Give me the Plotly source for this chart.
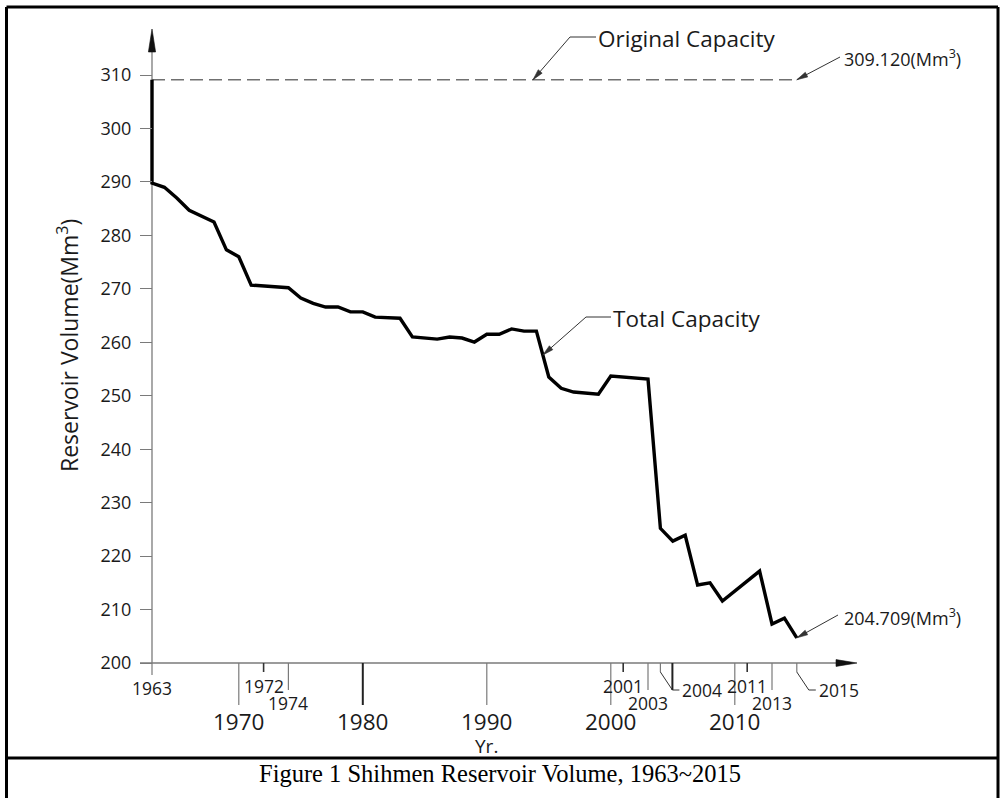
import math
import numpy as np
import plotly.graph_objects as go

# ---------------- data ----------------
years = [1963, 1963, 1964, 1965, 1966, 1968, 1969, 1970, 1971, 1974,
         1975, 1976, 1977, 1978, 1979, 1980, 1981, 1983, 1984, 1986,
         1987, 1988, 1989, 1990, 1991, 1992, 1993, 1994, 1995, 1996,
         1997, 1999, 2000, 2003, 2004, 2005, 2006, 2007, 2008, 2009,
         2012, 2013, 2014, 2015]
volume = [309.12, 289.8, 289.0, 287.0, 284.7, 282.5, 277.3, 276.0, 270.7, 270.2,
          268.3, 267.3, 266.6, 266.6, 265.7, 265.7, 264.7, 264.5, 261.0, 260.6,
          261.0, 260.8, 260.05, 261.5, 261.5, 262.5, 262.1, 262.1, 253.5, 251.4,
          250.7, 250.3, 253.7, 253.1, 225.2, 222.8, 223.9, 214.6, 215.0, 211.6,
          217.2, 207.3, 208.4, 204.709]
original_capacity = 309.12
latest_capacity = 204.709
first_year = 1963
last_year = 2015
ytick_values = list(range(200, 311, 10))
major_years = [1970, 1980, 1990, 2000, 2010]
upper_marked_years = [1972, 2001, 2011]
lower_marked_years = [1974, 2003, 2013]
leader_marked_years = [2004, 2015]

# ---------------- geometry (pixels) ----------------
W, H = 1001, 798
PL, PR, PT, PB = 130, 870, 20, 712
X0_PX, PX_PER_YR = 152, 12.4
Y0_PX, PX_PER_UNIT = 663, 5.345
Y_BASE = 200


def yr_at(px):
    return first_year + (px - X0_PX) / PX_PER_YR


def val_at(py):
    return Y_BASE + (Y0_PX - py) / PX_PER_UNIT


def xpx(yr):
    return X0_PX + (yr - first_year) * PX_PER_YR


def ypx(v):
    return Y0_PX - (v - Y_BASE) * PX_PER_UNIT


def paper_x(px):
    return (px - PL) / (PR - PL)


def paper_y(py):
    return (PB - py) / (PB - PT)


AX = '#7a7a7a'
INK = '#1a1a1a'
LEAD = '#333333'
FONT = 'Open Sans'

shapes = []


def line_px(x0, y0, x1, y1, color=LEAD, width=1.0):
    shapes.append(dict(type='line', xref='x', yref='y',
                       x0=yr_at(x0), y0=val_at(y0), x1=yr_at(x1), y1=val_at(y1),
                       line=dict(color=color, width=width), layer='above'))


def head(tip_x, tip_y, toward_dx, toward_dy, length, half, color=LEAD):
    """Filled arrowhead with tip at a data point; direction toward tail in screen px."""
    n = math.hypot(toward_dx, toward_dy)
    ux, uy = toward_dx / n, -toward_dy / n  # pixel-mode y is up
    px_, py_ = -uy, ux
    c1 = (length * ux + half * px_, length * uy + half * py_)
    c2 = (length * ux - half * px_, length * uy - half * py_)
    path = f"M0,0 L{c1[0]:.2f},{c1[1]:.2f} L{c2[0]:.2f},{c2[1]:.2f} Z"
    shapes.append(dict(type='path', xref='x', yref='y', xsizemode='pixel', ysizemode='pixel',
                       xanchor=tip_x, yanchor=tip_y, path=path, fillcolor=color,
                       line=dict(color=color, width=0.6), layer='above'))


# axes (drawn below the data line)
x_tip_px = 857
y_tip_py = 29
shapes.append(dict(type='line', xref='x', yref='y', x0=yr_at(140), x1=yr_at(x_tip_px - 10),
                   y0=Y_BASE, y1=Y_BASE, line=dict(color=AX, width=1.3), layer='below'))
shapes.append(dict(type='line', xref='x', yref='y', x0=first_year, x1=first_year,
                   y0=Y_BASE, y1=val_at(y_tip_py + 10), line=dict(color=AX, width=1.3),
                   layer='below'))
head(yr_at(x_tip_px), Y_BASE, -1, 0, 21, 3.4, color='#111')
head(first_year, val_at(y_tip_py), 0, 1, 23, 3.6, color='#111')

# original capacity dashed line
shapes.append(dict(type='line', xref='x', yref='y', x0=first_year, x1=last_year,
                   y0=original_capacity, y1=original_capacity, layer='below',
                   line=dict(color='#707070', width=1.5, dash='13px,6px')))


def tick(yr, length, width=1.2, color=AX):
    shapes.append(dict(type='line', xref='x', yref='y', ysizemode='pixel', yanchor=Y_BASE,
                       x0=yr, x1=yr, y0=0, y1=-length, layer='below',
                       line=dict(color=color, width=width)))


tick(first_year, 12)
for yr in major_years:
    tick(yr, 42, width=2 if yr == 1980 else 1.2, color='#222' if yr == 1980 else AX)
for yr in upper_marked_years:
    tick(yr, 9, width=1.6, color='#333')
for yr in lower_marked_years:
    tick(yr, 27)

annotations = []


def text(x, y, s, size, xanchor='center', family=FONT, color=INK, angle=0):
    annotations.append(dict(x=x, y=y, xref='x', yref='paper', text=s, showarrow=False,
                            xanchor=xanchor, yanchor='middle', textangle=angle,
                            borderpad=0,
                            font=dict(family=family, size=size, color=color)))


for yr in leader_marked_years:
    tick(yr, 9, width=1.2)
    x_end = xpx(yr) + 12
    shapes.append(dict(type='line', xref='x', yref='y', ysizemode='pixel', yanchor=Y_BASE,
                       x0=yr, x1=yr_at(x_end), y0=-9, y1=-27, line=dict(color=LEAD, width=1)))
    if yr == 2004:
        shapes.append(dict(type='line', xref='x', yref='y', ysizemode='pixel', yanchor=Y_BASE,
                           x0=yr_at(x_end), x1=yr_at(x_end), y0=0, y1=-27,
                           line=dict(color='#222', width=2)))
    shapes.append(dict(type='line', xref='x', yref='y', ysizemode='pixel', yanchor=Y_BASE,
                       x0=yr_at(x_end), x1=yr_at(x_end + 7), y0=-27, y1=-27,
                       line=dict(color=LEAD, width=1)))
    text(yr_at(x_end + 9), paper_y(690), str(yr), 17.5, xanchor='left')

text(first_year, paper_y(688), str(first_year), 17.5)
for yr in upper_marked_years:
    text(yr, paper_y(686), str(yr), 17.5)
for yr in lower_marked_years:
    text(yr, paper_y(703), str(yr), 17.5)
for yr in major_years:
    text(yr, paper_y(721), str(yr), 22.5)
text(1990, paper_y(746), 'Yr.', 19)

# leaders with labels
# Original Capacity
tip = (yr_at(533), original_capacity)
line_px(570, 37, xpx(tip[0]), ypx(tip[1]))
line_px(570, 37, 596, 37)
head(tip[0], tip[1], 570 - xpx(tip[0]), 37 - ypx(tip[1]), 11, 2.6)
text(yr_at(597), paper_y(38), 'Original Capacity', 22.5, xanchor='left')

# 309.120
tip = (last_year, original_capacity)
line_px(840, 57, xpx(tip[0]), ypx(tip[1]))
head(tip[0], tip[1], 840 - xpx(tip[0]), 57 - ypx(tip[1]), 11, 2.6)
text(yr_at(843), paper_y(58), f'{original_capacity:.3f}(Mm<sup>3</sup>)', 18, xanchor='left')

# Total Capacity (tip on the line between 1994 and 1995)
i94 = years.index(1994)
tip_val = val_at(355)
tip_yr = float(np.interp(tip_val, [volume[i94 + 1], volume[i94]], [years[i94 + 1], years[i94]]))
tip = (tip_yr, tip_val)
line_px(586, 317, xpx(tip[0]), ypx(tip[1]))
line_px(586, 317, 611, 317)
head(tip[0], tip[1], 586 - xpx(tip[0]), 317 - ypx(tip[1]), 11, 2.6)
text(yr_at(612), paper_y(318), 'Total Capacity', 22.5, xanchor='left')

# 204.709
tip = (last_year, latest_capacity)
line_px(838, 615, xpx(tip[0]), ypx(tip[1]))
head(tip[0], tip[1], 838 - xpx(tip[0]), 615 - ypx(tip[1]), 11, 2.6)
text(yr_at(843), paper_y(617), f'{latest_capacity:.3f}(Mm<sup>3</sup>)', 18, xanchor='left')

# y axis title
annotations.append(dict(x=paper_x(68), y=paper_y(346), xref='paper', yref='paper',
                        text='Reservoir Volume(Mm<sup>3</sup>)', showarrow=False, textangle=-90,
                        xanchor='center', yanchor='middle',
                        font=dict(family=FONT, size=23, color=INK)))

# caption
annotations.append(dict(x=paper_x(500), y=paper_y(773), xref='paper', yref='paper',
                        text='Figure 1 Shihmen Reservoir Volume, 1963~2015', showarrow=False,
                        xanchor='center', yanchor='middle',
                        font=dict(family='Liberation Serif', size=24.5, color='#000')))

# frame
SEP_PY = 758
for (x0, y0, x1, y1) in [(6.5, 7, 998, 7), (6.5, 7, 6.5, 800), (998, 7, 998, 800),
                         (6.5, SEP_PY, 998, SEP_PY)]:
    shapes.append(dict(type='line', xref='paper', yref='paper',
                       x0=paper_x(x0), y0=paper_y(y0), x1=paper_x(x1), y1=paper_y(y1),
                       line=dict(color='#000', width=3)))

fig = go.Figure()
fig.add_trace(go.Scatter(x=years, y=volume, mode='lines', name='Total Capacity',
                         line=dict(color='#000', width=3.4), showlegend=False,
                         hoverinfo='x+y'))

fig.update_layout(
    width=W, height=H,
    margin=dict(l=PL, r=W - PR, t=PT, b=H - PB, pad=0),
    paper_bgcolor='white', plot_bgcolor='white',
    showlegend=False,
    xaxis=dict(range=[yr_at(PL), yr_at(PR)], showgrid=False, zeroline=False, showline=False,
               showticklabels=False, ticks=''),
    yaxis=dict(range=[val_at(PB), val_at(PT)], showgrid=False, zeroline=False, showline=False,
               anchor='free', position=paper_x(X0_PX),
               tickmode='array', tickvals=ytick_values, ticks='outside', ticklen=12,
               tickwidth=1.2, tickcolor=AX, ticklabelstandoff=5,
               tickfont=dict(family=FONT, size=18, color=INK)),
    shapes=shapes,
    annotations=annotations,
)

fig.write_html("out.html", config={'displayModeBar': False},
               post_script="document.body.style.margin='0';document.body.style.overflow='hidden';")
